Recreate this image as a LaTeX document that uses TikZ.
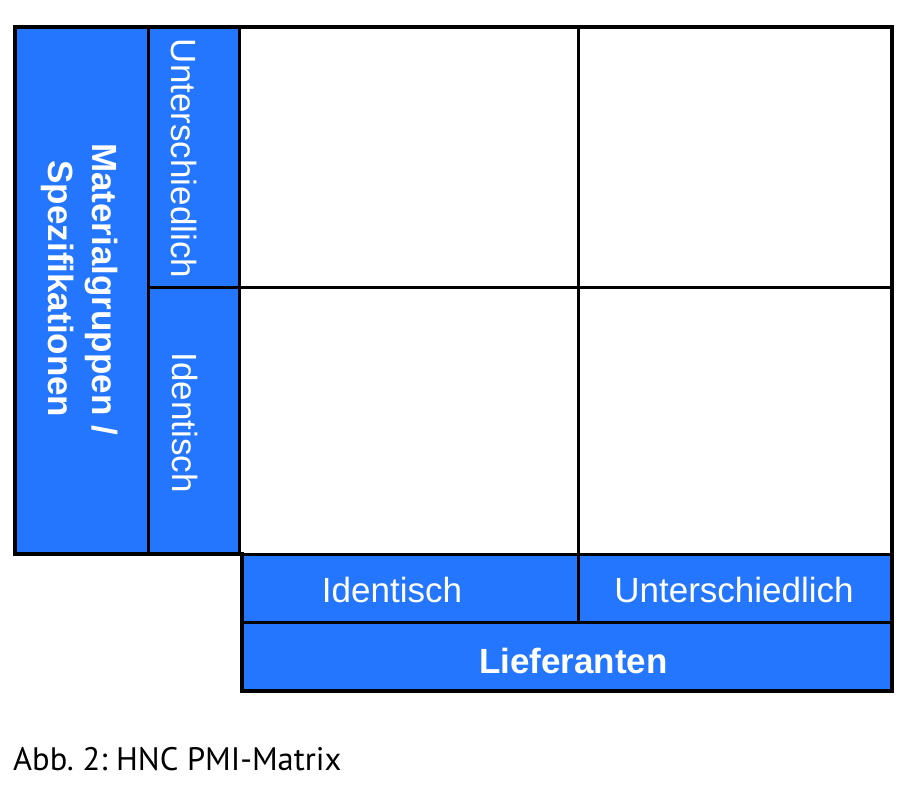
\documentclass[tikz,border=0pt]{standalone}
\usepackage{fontspec}
\setmainfont{Liberation Sans}
\newfontfamily\capfont{PT Sans}
\definecolor{cellblue}{RGB}{36,118,255}
\frenchspacing
\begin{document}
\begin{tikzpicture}[x=1pt,y=-1pt,
  bluecell/.style={fill=cellblue},
  innerline/.style={line width=3pt},
  outerline/.style={line width=4pt,line join=miter},
  lbl/.style={text=white,inner sep=0pt,font=\fontsize{35}{44}\selectfont},
  blbl/.style={text=white,inner sep=0pt,font=\fontsize{35}{44}\selectfont\bfseries,align=center},
  caption/.style={inner sep=0pt,font=\capfont\fontsize{32.5}{38}\selectfont}]
\useasboundingbox (0,0) rectangle (919,786);
% fills
\fill[bluecell] (15,27) rectangle (148,554);
\fill[bluecell] (148,27) rectangle (239,288);
\fill[bluecell] (148,288) rectangle (239,554);
\fill[white] (239,27) rectangle (892,554);
\fill[bluecell] (242,554) rectangle (578,622);
\fill[bluecell] (578,554) rectangle (892,622);
\fill[bluecell] (242,622) rectangle (892,691);
% inner lines
\draw[innerline] (148,27) -- (148,554);
\draw[innerline] (239,27) -- (239,554);
\draw[innerline] (148,288) -- (892,288);
\draw[innerline] (578,27) -- (578,622);
\draw[innerline] (242,554) -- (892,554);
\draw[innerline] (242,622) -- (892,622);
% outer outline
\draw[outerline] (15,27) -- (892,27) -- (892,691) -- (242,691) -- (242,554) -- (15,554) -- cycle;
% texts
\node[blbl,rotate=-90] (mat) at (80,289) {Materialgruppen /\\Spezifikationen};
\node[lbl,rotate=-90,anchor=base] (vunt) at (171,158.5) {Unterschiedlich};
\node[lbl,rotate=-90,anchor=base] (vide) at (172,422.5) {Identisch};
\node[lbl,anchor=base] (hide) at (392,602) {Identisch};
\node[lbl,anchor=base] (hunt) at (734,602) {Unterschiedlich};
\node[blbl,anchor=base] (lief) at (573.5,673) {Lieferanten};
\node[caption,anchor=base west] (cap) at (13,770) {Abb. 2: HNC PMI-Matrix};
\end{tikzpicture}
\end{document}
